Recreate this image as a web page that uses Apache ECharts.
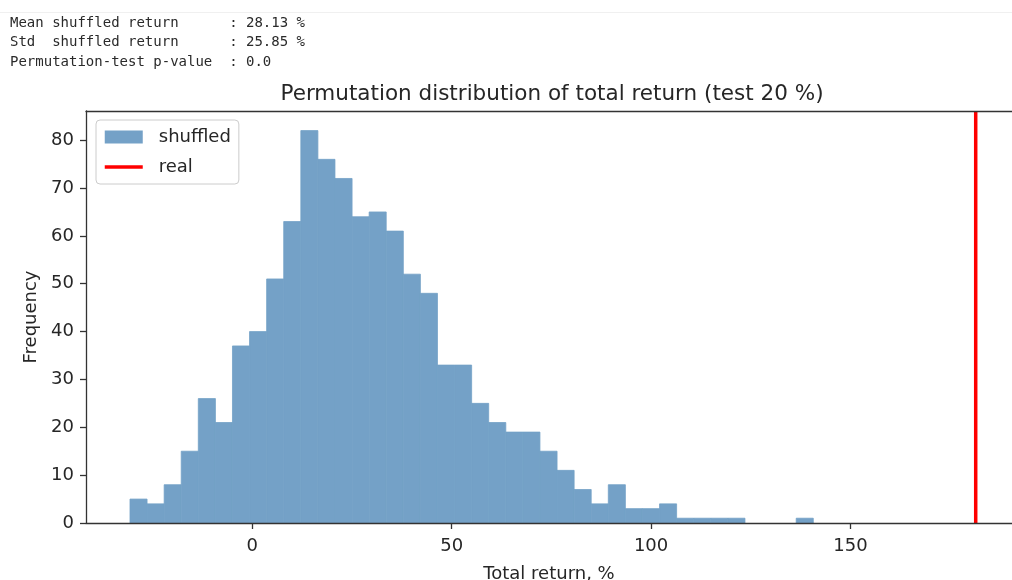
<!DOCTYPE html>
<html>
<head>
<meta charset="utf-8">
<script src="https://cdn.jsdelivr.net/npm/echarts@6/dist/echarts.min.js"></script>
<style>
  html, body { margin: 0; padding: 0; background: #ffffff; }
  #chart { width: 1012px; height: 580px; }
</style>
</head>
<body>
<div id="chart"></div>
<script>
// ---- data ----
const headerLines = [
  'Mean shuffled return      : 28.13 %',
  'Std  shuffled return      : 25.85 %',
  'Permutation-test p-value  : 0.0'
];
const titleText = 'Permutation distribution of total return (test 20 %)';
const xAxisName = 'Total return, %';
const yAxisName = 'Frequency';
const seriesNames = ['shuffled', 'real'];

// histogram bin edges (40 bins) and counts
const binEdges = [
  -30.67, -26.39, -22.10, -17.82, -13.54, -9.25, -4.97, -0.69, 3.60, 7.88,
  12.17, 16.45, 20.73, 25.02, 29.30, 33.58, 37.87, 42.15, 46.43, 50.72,
  55.00, 59.28, 63.57, 67.85, 72.13, 76.42, 80.70, 84.98, 89.27, 93.55,
  97.84, 102.12, 106.40, 110.69, 114.97, 119.25, 123.54, 127.82, 132.10, 136.39,
  140.67
];
const counts = [
  5, 4, 8, 15, 26, 21, 37, 40, 51, 63,
  82, 76, 72, 64, 65, 61, 52, 48, 33, 33,
  25, 21, 19, 19, 15, 11, 7, 4, 8, 3,
  3, 4, 1, 1, 1, 1, 0, 0, 0, 1
];
const realValue = 181.4;

const xTicks = [0, 50, 100, 150];
const yTicks = [0, 10, 20, 30, 40, 50, 60, 70, 80];
const xRange = [-41.7, 190.5];
const yRange = [0, 86.1];

// ---- build ----
const histData = counts.map((c, i) => [binEdges[i], binEdges[i + 1], c]);
const realLine = [[realValue, yRange[0]], [realValue, yRange[1]]];

const barColor = '#74a1c7';
const inkColor = '#262626';
const spineColor = '#333333';
const font = 'DejaVu Sans';

const chart = echarts.init(document.getElementById('chart'), null, { renderer: 'canvas' });

chart.setOption({
  animation: false,
  backgroundColor: '#ffffff',
  title: {
    text: titleText,
    left: 552,
    top: 83,
    textAlign: 'center',
    padding: 0,
    textStyle: { fontFamily: font, fontSize: 21.5, fontWeight: 'normal', color: inkColor }
  },
  graphic: [
    { type: 'line', shape: { x1: 0, y1: 12.5, x2: 1012, y2: 12.5 }, style: { stroke: '#f0f0f0', lineWidth: 1 } },
    ...headerLines.map((t, i) => ({
      type: 'text',
      x: 10,
      y: 23 + i * 19.5,
      style: {
        text: t,
        font: '14px "DejaVu Sans Mono", "Liberation Mono", monospace',
        fill: '#2a2a2a',
        textVerticalAlign: 'middle'
      }
    }))
  ],
  legend: {
    orient: 'vertical',
    left: 96,
    top: 120,
    padding: [7, 8, 7, 7],
    itemGap: 10,
    itemWidth: 38,
    itemHeight: 13,
    borderColor: '#cccccc',
    borderWidth: 1,
    borderRadius: 4,
    backgroundColor: 'rgba(255,255,255,0.8)',
    textStyle: { fontFamily: font, fontSize: 18, color: inkColor, lineHeight: 20, padding: [0, 0, 0, 11] },
    data: [
      { name: seriesNames[0], icon: 'rect' },
      { name: seriesNames[1], itemStyle: { opacity: 0 }, lineStyle: { width: 3.5, color: '#ff0000' } }
    ]
  },
  grid: {
    left: 86,
    right: 0,
    top: 111,
    bottom: 57,
    show: false,
    outerBoundsMode: 'none',
    containLabel: false
  },
  xAxis: [
    {
      type: 'value',
      min: xRange[0],
      max: xRange[1],
      z: 5,
      name: xAxisName,
      nameLocation: 'middle',
      nameGap: 42,
      nameTextStyle: { fontFamily: font, fontSize: 18, color: inkColor },
      axisLine: { show: true, onZero: false, lineStyle: { color: spineColor, width: 1.3 } },
      axisTick: { show: true, length: 6, customValues: xTicks, lineStyle: { color: spineColor, width: 1.3 } },
      axisLabel: { customValues: xTicks, margin: 14, fontFamily: font, fontSize: 18, color: inkColor },
      splitLine: { show: false }
    },
    {
      type: 'value',
      position: 'top',
      min: xRange[0],
      max: xRange[1],
      z: 5,
      axisLine: { show: true, onZero: false, lineStyle: { color: spineColor, width: 1.3 } },
      axisTick: { show: false },
      axisLabel: { show: false },
      splitLine: { show: false }
    }
  ],
  yAxis: {
    type: 'value',
    min: yRange[0],
    max: yRange[1],
    z: 5,
    name: yAxisName,
    nameLocation: 'middle',
    nameRotate: 90,
    nameGap: 41,
    nameTextStyle: { fontFamily: font, fontSize: 18, color: inkColor },
    axisLine: { show: true, onZero: false, lineStyle: { color: spineColor, width: 1.3 } },
    axisTick: { show: true, length: 6, customValues: yTicks, lineStyle: { color: spineColor, width: 1.3 } },
    axisLabel: { customValues: yTicks, margin: 12, fontFamily: font, fontSize: 18, color: inkColor },
    splitLine: { show: false }
  },
  series: [
    {
      name: seriesNames[0],
      type: 'custom',
      itemStyle: { color: barColor },
      encode: { x: [0, 1], y: 2 },
      data: histData,
      renderItem: function (params, api) {
        const x0 = api.value(0), x1 = api.value(1), c = api.value(2);
        if (c <= 0) return null;
        const pTop = api.coord([x0, c]);
        const pBot = api.coord([x1, 0]);
        return {
          type: 'rect',
          shape: { x: pTop[0], y: pTop[1], width: pBot[0] - pTop[0], height: pBot[1] - pTop[1] },
          style: { fill: barColor, stroke: barColor, lineWidth: 0.8 }
        };
      }
    },
    {
      name: seriesNames[1],
      type: 'line',
      symbol: 'none',
      showSymbol: false,
      z: 4,
      lineStyle: { color: '#ff0000', width: 3.5 },
      itemStyle: { color: '#ff0000' },
      data: realLine
    }
  ]
});
</script>
</body>
</html>
